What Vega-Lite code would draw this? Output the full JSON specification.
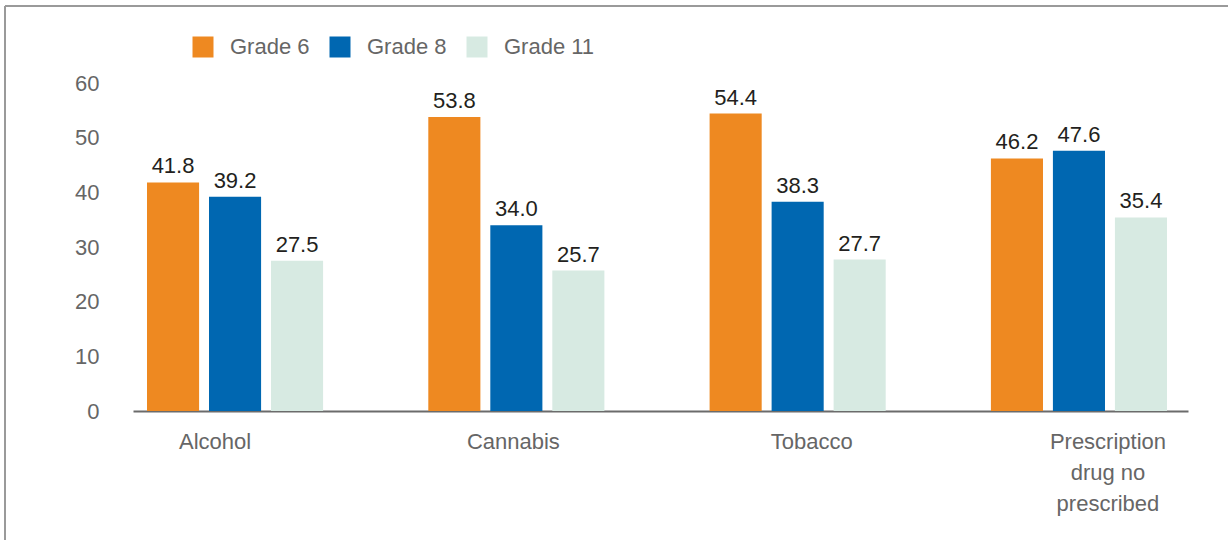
{
  "$schema": "https://vega.github.io/schema/vega-lite/v6.json",
  "width": 1223,
  "height": 534,
  "autosize": {"type": "none"},
  "padding": {"left": 5, "top": 6, "right": 0, "bottom": 0},
  "config": {
    "view": {"stroke": "#9a9a9a", "strokeWidth": 2, "strokeDash": [1223, 1757, 534, 0]},
    "font": "Liberation Sans"
  },
  "data": {
    "values": [
      {"substance": "Alcohol", "grade": "Grade 6", "value": 41.8},
      {"substance": "Alcohol", "grade": "Grade 8", "value": 39.2},
      {"substance": "Alcohol", "grade": "Grade 11", "value": 27.5},
      {"substance": "Cannabis", "grade": "Grade 6", "value": 53.8},
      {"substance": "Cannabis", "grade": "Grade 8", "value": 34.0},
      {"substance": "Cannabis", "grade": "Grade 11", "value": 25.7},
      {"substance": "Tobacco", "grade": "Grade 6", "value": 54.4},
      {"substance": "Tobacco", "grade": "Grade 8", "value": 38.3},
      {"substance": "Tobacco", "grade": "Grade 11", "value": 27.7},
      {"substance": "Prescription drug no prescribed", "grade": "Grade 6", "value": 46.2},
      {"substance": "Prescription drug no prescribed", "grade": "Grade 8", "value": 47.6},
      {"substance": "Prescription drug no prescribed", "grade": "Grade 11", "value": 35.4}
    ]
  },
  "encoding": {
    "x": {
      "field": "substance",
      "type": "nominal",
      "sort": ["Alcohol", "Cannabis", "Tobacco", "Prescription drug no prescribed"],
      "title": null,
      "scale": {"range": [128, 1183], "paddingInner": 0.374, "paddingOuter": 0.0622, "align": 0.4},
      "axis": {
        "offset": -129,
        "domainColor": "#6b6b6b",
        "domainWidth": 2,
        "ticks": false,
        "labelAngle": 0,
        "labelFontSize": 22,
        "labelColor": "#666666",
        "labelPadding": 20,
        "labelLineHeight": 31,
        "labelBaseline": "top",
        "labelExpr": "datum.value == 'Prescription drug no prescribed' ? ['Prescription', 'drug no', 'prescribed'] : datum.value",
        "labelOffset": {
          "condition": [
            {"test": "datum.value == 'Alcohol'", "value": -20},
            {"test": "datum.value == 'Cannabis'", "value": -3},
            {"test": "datum.value == 'Tobacco'", "value": 14}
          ],
          "value": 29
        }
      }
    },
    "xOffset": {
      "field": "grade",
      "type": "nominal",
      "sort": ["Grade 6", "Grade 8", "Grade 11"],
      "scale": {"paddingInner": 0.16, "paddingOuter": 0}
    },
    "y": {
      "field": "value",
      "type": "quantitative",
      "title": null,
      "scale": {"domain": [0, 60], "range": [405, 77], "nice": false},
      "axis": {
        "offset": -128,
        "values": [0, 10, 20, 30, 40, 50, 60],
        "grid": false,
        "domain": false,
        "ticks": false,
        "labelPadding": 34,
        "labelFontSize": 22,
        "labelColor": "#666666"
      }
    }
  },
  "layer": [
    {
      "mark": {"type": "bar"},
      "encoding": {
        "color": {
          "field": "grade",
          "type": "nominal",
          "sort": ["Grade 6", "Grade 8", "Grade 11"],
          "scale": {"domain": ["Grade 6", "Grade 8", "Grade 11"], "range": ["#EE8921", "#0067B1", "#D7EAE2"]},
          "legend": {
            "title": null,
            "orient": "none",
            "legendX": 187,
            "legendY": 30,
            "direction": "horizontal",
            "symbolType": "square",
            "symbolSize": 441,
            "symbolOpacity": 1,
            "symbolStrokeWidth": 0,
            "labelFontSize": 22,
            "labelColor": "#666666",
            "labelOffset": 16,
            "columnPadding": 19
          }
        }
      }
    },
    {
      "mark": {"type": "text", "baseline": "bottom", "dy": -4, "fontSize": 22, "color": "#231F20"},
      "encoding": {"text": {"field": "value", "type": "quantitative", "format": ".1f"}}
    }
  ]
}
